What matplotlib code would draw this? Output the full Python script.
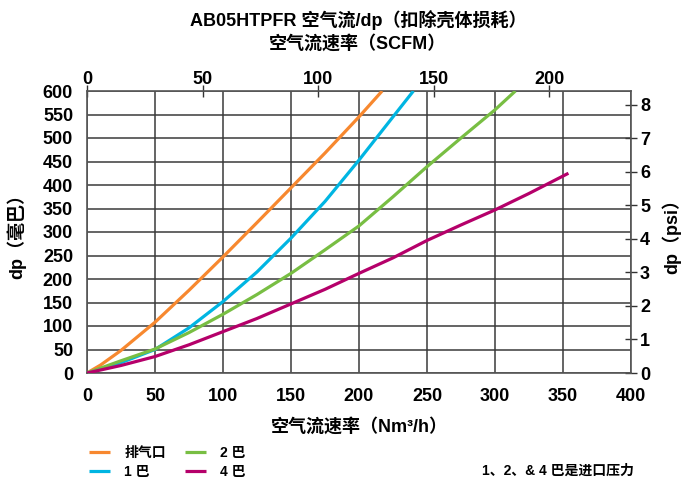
import matplotlib
matplotlib.use("Agg")
import matplotlib.pyplot as plt

plt.rcParams["font.family"] = ["Liberation Sans", "Noto Sans CJK SC", "DejaVu Sans"]
plt.rcParams["font.weight"] = "bold"
plt.rcParams["axes.unicode_minus"] = False

# =========================
# 数据
# =========================
x_exhaust = [0, 10, 25, 50, 75, 100, 125, 150, 175, 200, 217]
y_exhaust = [0, 17, 48, 108, 176, 247, 320, 394, 468, 545, 600]

x_1bar = [0, 25, 50, 75, 100, 125, 150, 175, 200, 225, 240]
y_1bar = [0, 22, 50, 96, 152, 215, 287, 365, 453, 545, 600]

x_2bar = [0, 25, 50, 75, 100, 125, 150, 175, 200, 225, 250, 275, 300, 315]
y_2bar = [0, 26, 51, 86, 125, 167, 212, 262, 313, 375, 439, 500, 560, 600]

x_4bar = [0, 25, 50, 75, 100, 125, 150, 175, 200, 225, 250, 275, 300, 325, 354]
y_4bar = [0, 16, 35, 60, 88, 116, 147, 178, 212, 245, 282, 315, 347, 382, 425]

labels = ["排气口", "1 巴", "2 巴", "4 巴"]
colors = ["#F7882F", "#00B5E2", "#78BE43", "#B5006A"]

x_ticks = list(range(0, 401, 50))
y_ticks = list(range(0, 601, 50))
scfm_ticks = [0, 50, 100, 150, 200]
psi_ticks = list(range(0, 9))

NM3H_PER_SCFM = 1.699
MBAR_PER_PSI = 71.3

# =========================
# 作图
# =========================
fig = plt.figure(figsize=(6.88, 4.78), dpi=100)
ax = fig.add_axes([87 / 688, 105 / 478, 544 / 688, 282 / 478])

series = [(x_exhaust, y_exhaust), (x_1bar, y_1bar), (x_2bar, y_2bar), (x_4bar, y_4bar)]
handles = []
for (xs, ys), lab, c in zip(series, labels, colors):
    h, = ax.plot(xs, ys, color=c, linewidth=2.3, label=lab, solid_capstyle="butt", zorder=3)
    handles.append(h)

ax.set_xlim(0, 400)
ax.set_ylim(0, 600)
ax.set_xticks(x_ticks)
ax.set_yticks(y_ticks)
ax.grid(True, color="#3a3a3a", linewidth=1.1)
ax.tick_params(length=0, labelsize=13)
ax.tick_params(axis="x", pad=11)
ax.tick_params(axis="y", pad=10)
for s in ax.spines.values():
    s.set_color("#555555")
    s.set_linewidth(1.2)

ax.set_xlabel("空气流速率（Nm³/h）", fontsize=13, fontweight="bold", labelpad=9)
ax.set_ylabel("dp（毫巴）", fontsize=13, fontweight="bold", labelpad=12)

top = ax.secondary_xaxis("top", functions=(lambda v: v / NM3H_PER_SCFM, lambda v: v * NM3H_PER_SCFM))
top.set_xticks(scfm_ticks)
top.tick_params(direction="inout", length=9, width=1, color="#333333", labelsize=13, pad=-2)
top.spines["top"].set_visible(False)

right = ax.secondary_yaxis("right", functions=(lambda v: v / MBAR_PER_PSI, lambda v: v * MBAR_PER_PSI))
right.set_yticks(psi_ticks)
right.tick_params(direction="inout", length=9, width=1, color="#333333", labelsize=13, pad=2)
right.spines["right"].set_visible(False)
right.set_ylabel("dp（psi）", fontsize=13, fontweight="bold", labelpad=8)

fig.text(0.52, 0.958, "AB05HTPFR 空气流/dp（扣除壳体损耗）", ha="center", va="center",
         fontsize=13, fontweight="bold")
fig.text(0.52, 0.908, "空气流速率（SCFM）", ha="center", va="center",
         fontsize=13, fontweight="bold")

fig.legend(handles=handles, ncol=2, loc="upper left", bbox_to_anchor=(0.122, 0.078),
           frameon=False, fontsize=10, handlelength=1.5, handletextpad=1.0,
           columnspacing=1.4, labelspacing=0.35, borderaxespad=0)
fig.text(0.70, 0.0146, "1、2、& 4 巴是进口压力", ha="left", va="center",
         fontsize=10, fontweight="bold")

fig.savefig("out.png", dpi=100)
plt.close("all")
